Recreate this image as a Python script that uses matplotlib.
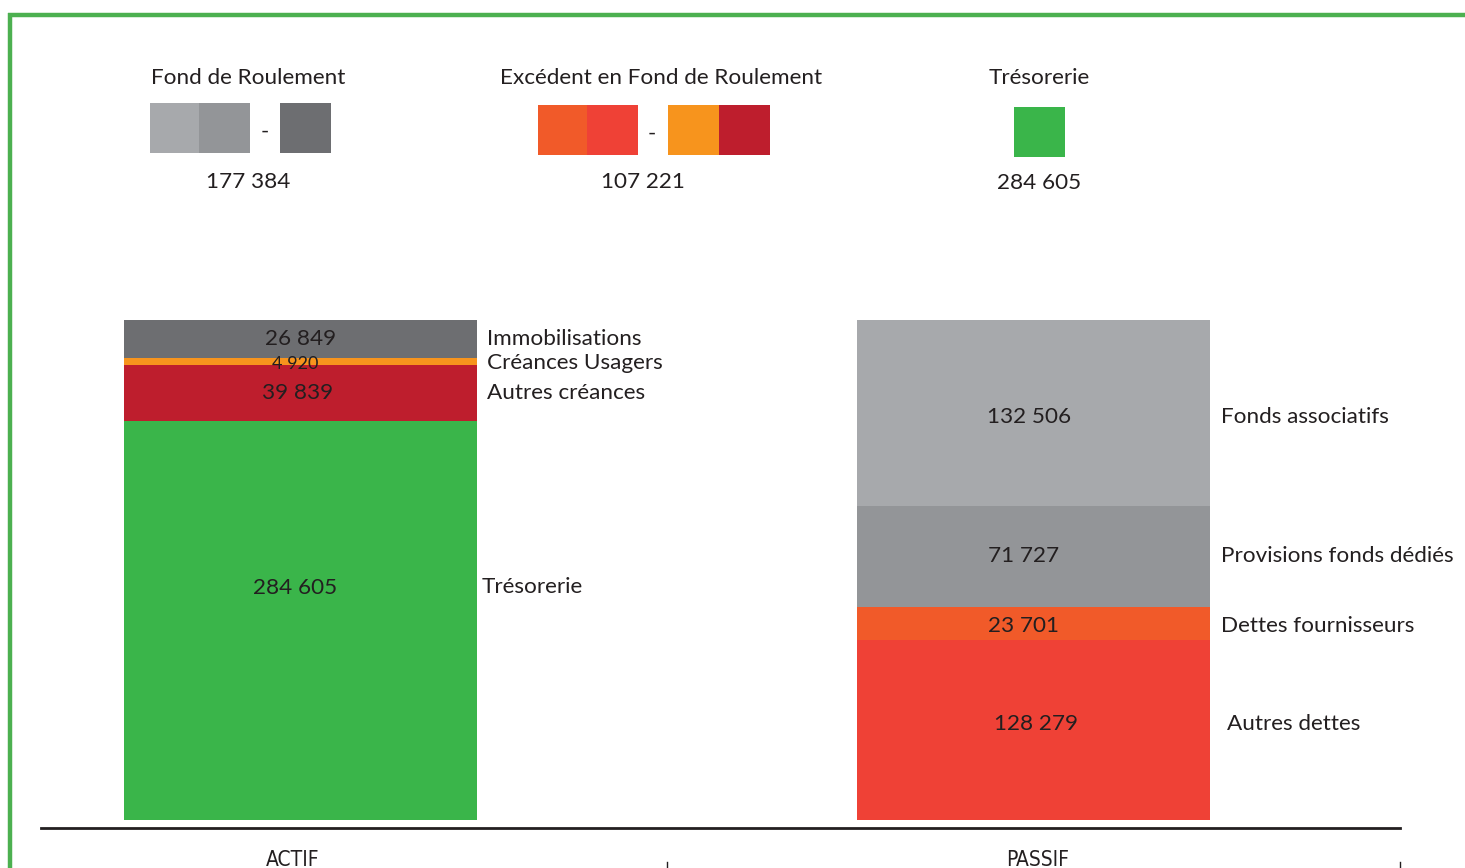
import matplotlib
matplotlib.use('Agg')
import matplotlib.pyplot as plt
from matplotlib.patches import Rectangle
import numpy as np

plt.rcParams['font.family'] = ['Lato', 'DejaVu Sans']

# bilan : actif / passif
categories = ['ACTIF', 'PASSIF']

actif_labels = ['Immobilisations', 'Créances Usagers', 'Autres créances', 'Trésorerie']
actif_values = [26849, 4920, 39839, 284605]

passif_labels = ['Fonds associatifs', 'Provisions fonds dédiés', 'Dettes fournisseurs', 'Autres dettes']
passif_values = [132506, 71727, 23701, 128279]

# couleurs
GRIS_FONCE = '#6d6e71'
ORANGE = '#f7941d'
ROUGE_FONCE = '#be1e2d'
VERT = '#3ab54a'
GRIS_CLAIR = '#a7a9ac'
GRIS_MOYEN = '#939598'
ORANGE_ROUGE = '#f15a29'
ROUGE = '#ef4136'
TXT = '#231f20'

actif_colors = [GRIS_FONCE, ORANGE, ROUGE_FONCE, VERT]
passif_colors = [GRIS_CLAIR, GRIS_MOYEN, ORANGE_ROUGE, ROUGE]


def fmt(v):
    return '{:,}'.format(v).replace(',', ' ')


fond_roulement = passif_values[0] + passif_values[1] - actif_values[0]
excedent = passif_values[2] + passif_values[3] - actif_values[1] - actif_values[2]
tresorerie = actif_values[3]

W, H = 1465, 868
fig = plt.figure(figsize=(W / 100, H / 100), dpi=100)

# fond (cadre vert, legende du haut) en pixels
bg = fig.add_axes([0, 0, 1, 1])
bg.set_xlim(0, W)
bg.set_ylim(H, 0)
bg.axis('off')
bg.plot([8, W], [15, 15], color='#4cb050', lw=3.2, solid_capstyle='butt')
bg.plot([10, 10], [13, H], color='#4cb050', lw=3.2, solid_capstyle='butt')


def swatch(x, y, c):
    bg.add_patch(Rectangle((x, y), 51, 50, facecolor=c, edgecolor='none'))


fs = 16.2
bg.text(248, 78, 'Fond de Roulement', ha='center', va='center', fontsize=fs, color=TXT)
swatch(150, 103, GRIS_CLAIR)
swatch(199, 103, GRIS_MOYEN)
bg.text(265, 132, '-', ha='center', va='center', fontsize=fs, color=TXT)
swatch(280, 103, GRIS_FONCE)
bg.text(248, 182, fmt(fond_roulement), ha='center', va='center', fontsize=fs, color=TXT)

bg.text(661, 78, 'Excédent en Fond de Roulement', ha='center', va='center', fontsize=fs, color=TXT)
swatch(538, 105, ORANGE_ROUGE)
swatch(587, 105, ROUGE)
bg.text(652, 134, '-', ha='center', va='center', fontsize=fs, color=TXT)
swatch(668, 105, ORANGE)
swatch(719, 105, ROUGE_FONCE)
bg.text(643, 182, fmt(excedent), ha='center', va='center', fontsize=fs, color=TXT)

bg.text(1039, 78, 'Trésorerie', ha='center', va='center', fontsize=fs, color=TXT)
swatch(1014, 107, VERT)
bg.text(1039, 183, fmt(tresorerie), ha='center', va='center', fontsize=fs, color=TXT)

# graphique principal
total = sum(actif_values)
upp = total / 500.0  # unites par pixel
ppx = 1 / 733.0      # unite x par pixel
ax = fig.add_axes([41 / W, (H - 828) / H, (1400 - 41) / W, (828 - 320) / H])
ax.patch.set_alpha(0)
ax.set_ylim(-8 * upp, total)
ax.set_xlim(-0.354, 1.5)
width = 0.4816
x = np.arange(len(categories))

# petits decalages des etiquettes (pixels x, pixels vers le bas)
nudge = {'Immobilisations': (0, -2), 'Créances Usagers': (-5, 0), 'Autres créances': (-3, -2),
         'Trésorerie': (-5, -35), 'Fonds associatifs': (-4, 2),
         'Provisions fonds dédiés': (-10, -2.5), 'Dettes fournisseurs': (-10, 0),
         'Autres dettes': (3, -8)}

for i, (vals, cols, labs) in enumerate([(actif_values, actif_colors, actif_labels),
                                        (passif_values, passif_colors, passif_labels)]):
    top = total
    for v, c, lab in zip(vals, cols, labs):
        bottom = top - v
        ax.bar(x[i], v, width=width, bottom=bottom, color=c, edgecolor='none')
        yc = (top + bottom) / 2
        size = fs
        if v < 10000:
            size = 13
        dx, dy = nudge.get(lab, (0, 0))
        ax.text(x[i] + dx * ppx, yc - (dy + 2.5) * upp, fmt(v), ha='center', va='center',
                fontsize=size, color=TXT)
        top = bottom

# libelles a droite
xr_a = x[0] + width / 2 + 10 * ppx
ax.text(xr_a, total - 19 * upp, actif_labels[0], ha='left', va='center', fontsize=fs, color=TXT)
ax.text(xr_a, total - 43 * upp, actif_labels[1], ha='left', va='center', fontsize=fs, color=TXT)
ax.text(xr_a, total - 73 * upp, actif_labels[2], ha='left', va='center', fontsize=fs, color=TXT)
ax.text(xr_a - 5 * ppx, total - 267 * upp, actif_labels[3], ha='left', va='center', fontsize=fs, color=TXT)

xr_p = x[1] + width / 2 + 11 * ppx
ax.text(xr_p, total - 97 * upp, passif_labels[0], ha='left', va='center', fontsize=fs, color=TXT)
ax.text(xr_p, total - 236 * upp, passif_labels[1], ha='left', va='center', fontsize=fs, color=TXT)
ax.text(xr_p, total - 306 * upp, passif_labels[2], ha='left', va='center', fontsize=fs, color=TXT)
ax.text(xr_p + 6 * ppx, total - 404 * upp, passif_labels[3], ha='left', va='center', fontsize=fs, color=TXT)

for s in ['top', 'right', 'left']:
    ax.spines[s].set_visible(False)
ax.spines['bottom'].set_color(TXT)
ax.spines['bottom'].set_linewidth(2)
ax.set_yticks([])
ax.set_xticks([])

# noms des colonnes sous la ligne
xt = ax.get_xaxis_transform()
for xi, cat, dx in zip(x, categories, [-8, 4]):
    ax.text(xi + dx * ppx, -0.043, cat, ha='center', va='top', transform=xt,
            family=['DejaVu Sans'], stretch='condensed', fontsize=15, color=TXT, clip_on=False)
for xm in [0.5, 1.5]:
    ax.plot([xm, xm], [-0.067, -0.09], color=TXT, lw=1, transform=xt, clip_on=False)

fig.savefig('out.png', dpi=100)
